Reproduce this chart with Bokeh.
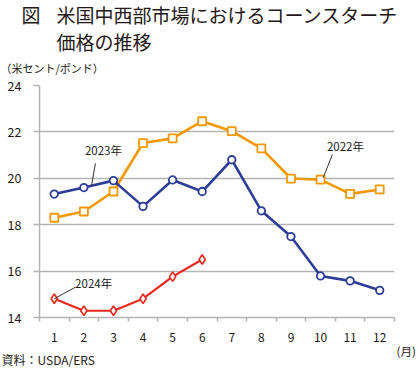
from bokeh.plotting import figure
from bokeh.layouts import column
from bokeh.models import Range1d, FixedTicker
from bokeh.core.properties import value
from bokeh.embed import file_html
from bokeh.resources import INLINE

months = [1, 2, 3, 4, 5, 6, 7, 8, 9, 10, 11, 12]
y2022 = [18.3, 18.57, 19.43, 21.52, 21.72, 22.46, 22.03, 21.29, 19.99, 19.94, 19.33, 19.52]
y2023 = [19.32, 19.6, 19.9, 18.79, 19.93, 19.43, 20.8, 18.6, 17.49, 15.79, 15.58, 15.17]
months_2024 = [1, 2, 3, 4, 5, 6]
y2024 = [14.81, 14.29, 14.29, 14.81, 15.76, 16.5]
y_ticks = [14, 16, 18, 20, 22, 24]
x_tick_labels = [str(m) for m in months]
series_labels = ["2023年", "2022年", "2024年"]

fig_mark = "図"
title1 = "米国中西部市場におけるコーンスターチ"
title2 = "価格の推移"
unit = "（米セント/ポンド）"
source = "資料：USDA/ERS"
month_unit = "(月)"

W = 420
JP = "Noto Sans CJK JP"
TXT = "#231815"
GRID = "#b4b4b4"
BLUE = "#2b3d97"
ORANGE = "#f39800"
RED = "#e8281e"


def no_align(f):
    if "frame_align" in f.properties():
        f.frame_align = False


def text_panel(h, y_top):
    # a blank panel whose data coordinates equal page pixels
    f = figure(frame_width=W, frame_height=h, output_backend="svg",
               toolbar_location=None,
               x_range=Range1d(0, W), y_range=Range1d(y_top + h, y_top),
               x_axis_type=None, y_axis_type=None, min_border=0)
    f.outline_line_color = None
    f.grid.visible = False
    no_align(f)
    return f


def put(f, txt, x, y, size):
    f.text(x=[x], y=[y], text=[txt], text_font=value(JP), text_font_size=size,
           text_align="left", text_baseline="middle", text_color=TXT)


# ---- top: title and unit ----
top_h = 76
top = text_panel(top_h, 0)
put(top, fig_mark, 21, 14, "19px")
put(top, title1, 56, 14, "19px")
put(top, title2, 56, 41, "19px")
put(top, unit, 0, 67.5, "11px")

# ---- middle: chart ----
mid_h = 268
L, R, T, B = 39, 394, 85 - top_h, 317 - top_h
p = figure(width=W, height=mid_h, output_backend="svg", toolbar_location=None,
           x_range=Range1d(0.5, 12.5), y_range=Range1d(14, 24),
           min_border_left=L, min_border_right=W - R, min_border_top=T,
           min_border_bottom=mid_h - B)
p.outline_line_color = None
no_align(p)

p.xaxis.ticker = FixedTicker(ticks=months, minor_ticks=[m - 0.5 for m in months] + [12.5])
p.xaxis.major_label_overrides = {m: s for m, s in zip(months, x_tick_labels)}
p.xaxis.major_tick_line_color = None
p.xaxis.major_tick_out = 0
p.xaxis.major_tick_in = 0
p.xaxis.minor_tick_out = 4
p.xaxis.minor_tick_in = 0
p.xaxis.minor_tick_line_color = GRID
p.xaxis.minor_tick_line_width = 1.5
p.xaxis.axis_line_color = GRID
p.xaxis.axis_line_width = 1.5
p.xaxis.major_label_standoff = 11
p.xaxis.major_label_text_font = JP
p.xaxis.major_label_text_font_size = "12px"
p.xaxis.major_label_text_color = TXT

p.yaxis.ticker = FixedTicker(ticks=y_ticks, minor_ticks=[])
p.yaxis.major_tick_out = 6
p.yaxis.major_tick_in = 0
p.yaxis.major_tick_line_color = GRID
p.yaxis.major_tick_line_width = 1.5
p.yaxis.axis_line_color = GRID
p.yaxis.axis_line_width = 1.5
p.yaxis.major_label_standoff = 12
p.yaxis.major_label_text_font = JP
p.yaxis.major_label_text_font_size = "12.5px"
p.yaxis.major_label_text_color = TXT

p.xgrid.grid_line_color = None
p.ygrid.ticker = FixedTicker(ticks=y_ticks[1:])
p.ygrid.grid_line_color = GRID
p.ygrid.grid_line_width = 1.5

p.line(months, y2022, line_color=ORANGE, line_width=2.6)
p.scatter(months, y2022, marker="square", size=8, fill_color="white",
          line_color=ORANGE, line_width=1.8)
p.line(months, y2023, line_color=BLUE, line_width=2.6)
p.scatter(months, y2023, marker="circle", size=7.5, fill_color="white",
          line_color=BLUE, line_width=1.8)
p.line(months_2024, y2024, line_color=RED, line_width=2.2)
p.scatter(months_2024, y2024, marker="diamond", size=9.5, fill_color="white",
          line_color=RED, line_width=1.6)

# series labels with leader lines
p.segment(x0=[2.39, 10.40, 1.72], y0=[20.64, 21.03, 15.31],
          x1=[2.26, 10.09, months_2024[0]], y1=[19.69, 20.02, y2024[0]],
          line_color="#333333", line_width=1)
p.text(x=[2.66, 10.84, 2.33], y=[21.20, 21.38, 15.50],
       text=series_labels, text_font=value(JP),
       text_font_size="11.5px", text_align="center", text_baseline="middle",
       text_color=TXT)

# ---- bottom: month unit and source ----
bot_h = 368 - top_h - mid_h
bot = text_panel(bot_h, top_h + mid_h)
put(bot, month_unit, 396, 350, "11.5px")
put(bot, source, 1, 359, "12px")

layout = column(top, p, bot, spacing=0)
open("out.html", "w").write(file_html(layout, INLINE))
